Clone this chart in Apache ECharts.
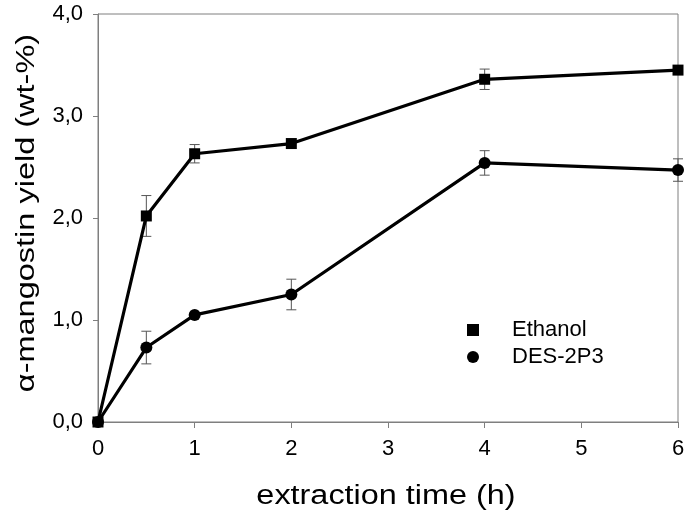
<!DOCTYPE html>
<html>
<head>
<meta charset="utf-8">
<script src="https://cdn.jsdelivr.net/npm/echarts@6/dist/echarts.min.js"></script>
<style>html,body{margin:0;padding:0;background:#fff}#c{width:692px;height:519px}</style>
</head>
<body>
<div id="c"></div>
<script>
const timeH = [0, 0.5, 1, 2, 4, 6];
const ethanolYield = [0, 2.02, 2.63, 2.73, 3.36, 3.45];
const ethanolErr = [0, 0.20, 0.09, 0, 0.10, 0];
const desYield = [0, 0.73, 1.05, 1.25, 2.54, 2.47];
const desErr = [0, 0.16, 0, 0.15, 0.12, 0.11];
const yTickLabels = ['0,0', '1,0', '2,0', '3,0', '4,0'];
const xTickLabels = ['0', '1', '2', '3', '4', '5', '6'];
const seriesNames = ['Ethanol', 'DES-2P3'];
const yTitle = 'α-mangostin yield (wt-%)';
const xTitle = 'extraction time (h)';

const FONT = '"Liberation Sans", Arial, sans-serif';
const AXIS_GRAY = '#7f7f7f';

function pts(ys) { return timeH.map((t, i) => [t, ys[i]]); }
function errs(ys, es) {
  return timeH.map((t, i) => [t, ys[i] - es[i], ys[i] + es[i]]).filter((d, i) => es[i] > 0);
}
function errRender(params, api) {
  const x = api.value(0), lo = api.value(1), hi = api.value(2);
  const a = api.coord([x, hi]), b = api.coord([x, lo]);
  const w = 5;
  const st = { stroke: '#555', lineWidth: 1 };
  return { type: 'group', children: [
    { type: 'line', shape: { x1: a[0], y1: a[1], x2: b[0], y2: b[1] }, style: st },
    { type: 'line', shape: { x1: a[0] - w, y1: a[1], x2: a[0] + w, y2: a[1] }, style: st },
    { type: 'line', shape: { x1: b[0] - w, y1: b[1], x2: b[0] + w, y2: b[1] }, style: st }
  ]};
}

const chart = echarts.init(document.getElementById('c'), null, { renderer: 'canvas' });
chart.setOption({
  backgroundColor: '#fff',
  animation: false,
  grid: { left: 98, right: 14, top: 14, bottom: 97, show: true, borderColor: AXIS_GRAY, borderWidth: 1, backgroundColor: 'transparent' },
  xAxis: {
    type: 'value', min: 0, max: 6, interval: 1,
    axisLine: { show: true, lineStyle: { color: AXIS_GRAY, width: 1 } },
    axisTick: { show: true, inside: false, length: 6, lineStyle: { color: AXIS_GRAY } },
    splitLine: { show: false },
    axisLabel: { margin: 16, color: '#000', fontFamily: FONT, fontSize: 22, formatter: v => xTickLabels[Math.round(v)] }
  },
  yAxis: {
    type: 'value', min: 0, max: 4, interval: 1,
    axisLine: { show: true, lineStyle: { color: AXIS_GRAY, width: 1 } },
    axisTick: { show: true, inside: false, length: 5, lineStyle: { color: AXIS_GRAY } },
    splitLine: { show: false },
    axisLabel: { margin: 15, color: '#000', fontFamily: FONT, fontSize: 22, formatter: v => yTickLabels[Math.round(v)] }
  },
  legend: {
    orient: 'vertical', left: 462, top: 314, itemWidth: 12, itemHeight: 12, itemGap: 5,
    data: [{ name: seriesNames[0], icon: 'rect' }, { name: seriesNames[1], icon: 'circle' }],
    textStyle: { fontFamily: FONT, fontSize: 22, color: '#000', lineHeight: 22, padding: [0, 0, 0, 28] },
    selectedMode: false
  },
  graphic: [
    { type: 'text', x: 27, y: 213, rotation: Math.PI / 2, scaleX: 1.25, scaleY: 1,
      style: { text: yTitle, font: '26px ' + FONT, fill: '#000', align: 'center', verticalAlign: 'middle' } },
    { type: 'text', x: 386, y: 497, scaleX: 1.2, scaleY: 1,
      style: { text: xTitle, font: '27px ' + FONT, fill: '#000', align: 'center', verticalAlign: 'middle' } }
  ],
  series: [
    { type: 'custom', name: 'errE', renderItem: errRender, data: errs(ethanolYield, ethanolErr), z: 1, silent: true },
    { type: 'custom', name: 'errD', renderItem: errRender, data: errs(desYield, desErr), z: 1, silent: true },
    { type: 'line', name: seriesNames[1], data: pts(desYield), symbol: 'circle', symbolSize: 12, z: 3,
      lineStyle: { color: '#000', width: 3.2 }, itemStyle: { color: '#000' } },
    { type: 'line', name: seriesNames[0], data: pts(ethanolYield), symbol: 'rect', symbolSize: 11, z: 4,
      lineStyle: { color: '#000', width: 3.2 }, itemStyle: { color: '#000' } }
  ]
});
</script>
</body>
</html>
